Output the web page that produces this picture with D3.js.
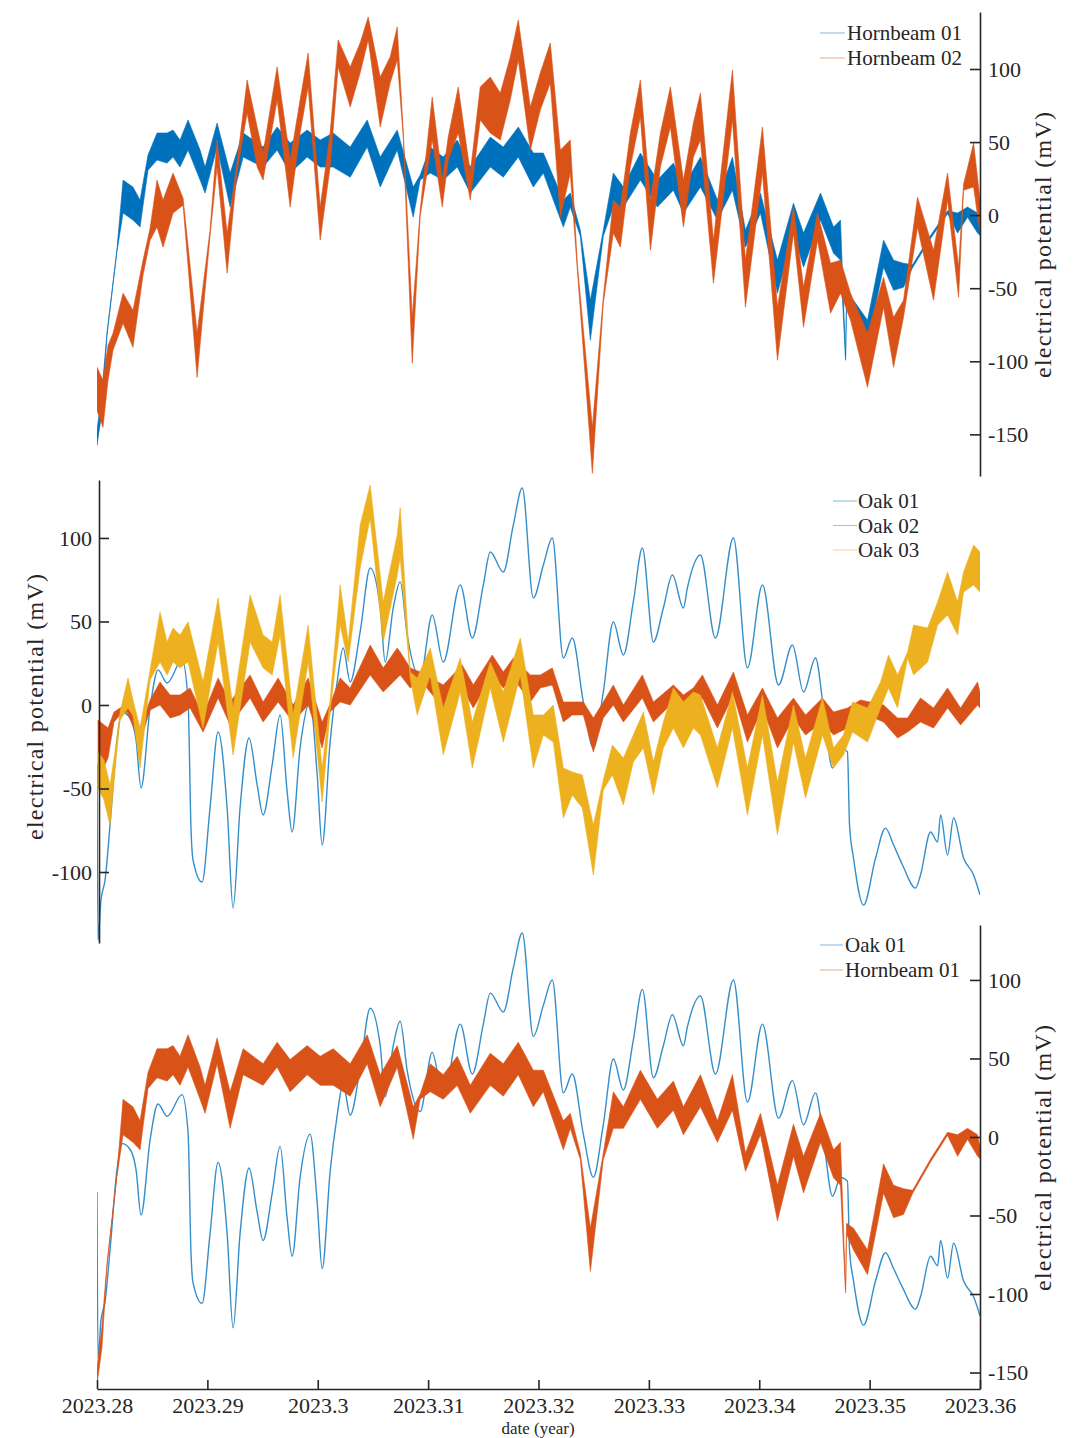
<!DOCTYPE html>
<html><head><meta charset="utf-8">
<script src="https://cdn.jsdelivr.net/npm/d3@7"></script>
<style>html,body{margin:0;padding:0;background:#fff;} svg{display:block;}</style>
</head><body><svg id="chart" width="1080" height="1438"></svg>
<script>
// ---------------- data ----------------
const xTickValues = [2023.28, 2023.29, 2023.30, 2023.31, 2023.32, 2023.33, 2023.34, 2023.35, 2023.36];
const xTickLabels = ["2023.28","2023.29","2023.3","2023.31","2023.32","2023.33","2023.34","2023.35","2023.36"];
const topTicks = [-150, -100, -50, 0, 50, 100];
const midTicks = [-100, -50, 0, 50, 100];
const botTicks = [-150, -100, -50, 0, 50, 100];
const yLabel = "electrical potential (mV)";
const xLabel = "date (year)";

// Hornbeam 01 (envelope low / high, mV)
const hb1Year = [2023.28000,2023.28045,2023.28091,2023.28181,2023.28236,2023.28326,2023.28390,2023.28462,2023.28544,2023.28635,2023.28689,2023.28752,2023.28825,2023.28934,2023.28979,2023.29088,2023.29206,2023.29324,2023.29505,2023.29632,2023.29750,2023.29904,2023.30022,2023.30140,2023.30294,2023.30448,2023.30566,2023.30720,2023.30865,2023.30928,2023.31019,2023.31137,2023.31264,2023.31382,2023.31563,2023.31681,2023.31817,2023.31953,2023.32044,2023.32225,2023.32288,2023.32379,2023.32470,2023.32587,2023.32678,2023.32769,2023.32923,2023.33077,2023.33222,2023.33313,2023.33467,2023.33621,2023.33757,2023.33875,2023.34011,2023.34165,2023.34310,2023.34401,2023.34555,2023.34673,2023.34736,2023.34782,2023.34791,2023.34854,2023.34981,2023.35126,2023.35217,2023.35307,2023.35389,2023.35552,2023.35706,2023.35797,2023.35887,2023.35978,2023.36000];
const hb1Lo = [-157.5,-134.2,-82,-25,1.4,-3.4,-8.2,30.8,37.7,35.6,39.7,32.9,44.5,24.0,15.1,46.6,5.5,39.7,32.9,44.5,28.8,39.7,32.9,32.9,26.0,46.6,19.2,44.5,-1.4,24.0,28.8,24.0,32.9,15.1,32.9,26.0,39.7,19.2,28.8,-8.2,5.5,-14.4,-85.6,-14.4,5.5,5.5,24.0,5.5,17.1,1.4,19.2,-3.4,17.1,-21.9,1.4,-53.4,-12.3,-35.6,-3.4,-26.0,-30.8,-99.3,-62,-71.9,-87.7,-35.6,-51.4,-49.3,-36,-16,1,-12.3,-1.4,-12.3,-13.7];
const hb1Hi = [-147.3,-120.5,-80,-23,24.0,19.2,10.3,41.1,56.2,56.2,58.2,51.4,65.1,44.5,32.9,63.0,28.8,56.2,46.6,60.3,49.3,58.2,51.4,56.2,46.6,65.1,39.7,58.2,19.2,27.4,46.6,39.7,51.4,32.9,53.4,46.6,60.3,42.5,42.5,10.3,15.1,-10.3,-58.2,-10.3,28.8,19.2,42.5,24.0,35.6,19.2,39.7,10.3,39.7,-10.3,15.1,-30.8,8.2,-12.3,15.1,-8.2,-3.4,-97,-55,-58.2,-71.9,-17.1,-30.8,-32.9,-34,-14,3,1.4,5.5,1.4,-6.8];

// Hornbeam 02
const hb2Year = [2023.28000,2023.28054,2023.28100,2023.28145,2023.28236,2023.28326,2023.28417,2023.28481,2023.28544,2023.28598,2023.28689,2023.28780,2023.28907,2023.29024,2023.29088,2023.29179,2023.29269,2023.29360,2023.29451,2023.29505,2023.29568,2023.29632,2023.29750,2023.29840,2023.29913,2023.30022,2023.30112,2023.30185,2023.30294,2023.30384,2023.30457,2023.30566,2023.30656,2023.30720,2023.30774,2023.30856,2023.30928,2023.31037,2023.31128,2023.31182,2023.31273,2023.31382,2023.31472,2023.31563,2023.31654,2023.31744,2023.31817,2023.31926,2023.32016,2023.32107,2023.32198,2023.32288,2023.32352,2023.32488,2023.32587,2023.32678,2023.32742,2023.32832,2023.32923,2023.33014,2023.33104,2023.33195,2023.33313,2023.33403,2023.33467,2023.33585,2023.33757,2023.33875,2023.34029,2023.34165,2023.34310,2023.34401,2023.34528,2023.34646,2023.34736,2023.34827,2023.34981,2023.35126,2023.35217,2023.35307,2023.35434,2023.35579,2023.35706,2023.35806,2023.35851,2023.35942,2023.36000];
const hb2Lo = [-133.6,-145.2,-113,-92.5,-74.0,-90.4,-41.1,-17.1,-8.2,-21.9,1.4,6.8,-111.0,-14.4,32.9,-39.7,29.5,69.9,32.9,24.0,51.4,78.8,5.5,56.2,87.7,-17.1,32.9,101.4,74.0,97.3,119.9,60.3,90.4,106.2,54.1,-101.4,-0.7,51.4,5.5,37.7,56.2,10.3,65.1,56.2,51.4,78.8,106.2,44.5,71.9,90.4,-1.4,28.8,-37.7,-176.7,-60.3,-12.3,-21.9,32.9,67.1,-24.0,32.9,60.3,-8.2,39.7,51.4,-46.6,65.1,-63.0,28.8,-99.3,-12.3,-76.7,-17.1,-67.1,-53.4,-71.9,-117.8,-63.0,-104.1,-69.9,-8.2,-58.2,10.3,-56.2,17.1,19.2,-12.3];
const hb2Hi = [-104.1,-113.0,-89,-80.8,-53.4,-65.1,-30.8,-8.9,24.0,10.3,28.8,11.6,-80.8,-10.3,51.4,-12.3,36.3,92.5,60.3,42.5,71.9,101.4,37.7,78.8,111.0,5.5,56.2,119.9,101.4,117.8,135.6,94.5,108.2,128.8,58.2,-69.9,3.4,80.8,24.0,53.4,87.7,28.8,87.7,94.5,83.6,108.2,133.6,74.0,97.3,117.8,44.5,51.4,-33.6,-145.2,-56.2,10.3,5.5,56.2,92.5,10.3,56.2,87.7,24.0,63.0,83.6,-17.1,99.3,-30.8,60.3,-63.0,5.5,-49.3,1.4,-32.9,-30.8,-53.4,-80.8,-42.5,-69.9,-58.2,12.3,-24.0,28.8,-35.6,21.2,49.3,10.3];

// Oak 01 (thin trace, mV)
const oak01Year = [2023.28000,2023.28009,2023.28036,2023.28073,2023.28118,2023.28181,2023.28227,2023.28299,2023.28354,2023.28399,2023.28481,2023.28553,2023.28635,2023.28771,2023.28825,2023.28852,2023.28870,2023.28952,2023.29024,2023.29097,2023.29179,2023.29233,2023.29296,2023.29378,2023.29451,2023.29505,2023.29587,2023.29659,2023.29723,2023.29768,2023.29840,2023.29931,2023.29995,2023.30040,2023.30112,2023.30176,2023.30230,2023.30294,2023.30384,2023.30475,2023.30566,2023.30611,2023.30684,2023.30747,2023.30811,2023.30928,2023.31037,2023.31137,2023.31291,2023.31400,2023.31500,2023.31563,2023.31681,2023.31772,2023.31853,2023.31953,2023.32044,2023.32125,2023.32225,2023.32306,2023.32406,2023.32497,2023.32587,2023.32678,2023.32769,2023.32859,2023.32941,2023.33041,2023.33131,2023.33213,2023.33313,2023.33349,2023.33467,2023.33603,2023.33766,2023.33893,2023.34029,2023.34174,2023.34301,2023.34401,2023.34510,2023.34582,2023.34664,2023.34736,2023.34799,2023.34818,2023.34854,2023.34945,2023.35054,2023.35144,2023.35217,2023.35298,2023.35416,2023.35461,2023.35552,2023.35616,2023.35643,2023.35706,2023.35761,2023.35851,2023.35942,2023.36000];
const oak01Val = [-35,-140.7,-116.8,-104.8,-71.9,-21.0,-4.2,-7.8,-21.0,-49.7,-1.8,21.0,13.2,27.0,3.0,-74.9,-92.8,-106.0,-61.7,-16.2,-61.7,-121.6,-61.7,-19.8,-47.9,-65.9,-35.9,-6.0,-52.1,-76.0,-25.7,1.8,-41.9,-83.8,-22.2,13.8,34.1,13.8,43.7,82.0,58.1,25.7,58.1,73.7,41.9,16.2,53.9,25.7,71.9,40.1,71.9,91.6,79.6,107.8,129.9,64.1,83.8,100.0,28.1,40.1,1.8,-25.7,7.8,49.7,29.9,61.7,94.0,37.7,58.1,77.8,58.1,70.1,89.8,40.1,100.0,22.2,71.9,12.0,35.9,7.8,28.1,-1.8,-37.7,-25.7,-28.1,-71.9,-91.6,-119.8,-91.6,-73.7,-83.8,-95.8,-109.6,-101.8,-76.0,-82.0,-65.9,-89.8,-67.7,-91.6,-101.8,-113.8];

// Oak 02
const oak02Year = [2023.28009,2023.28100,2023.28154,2023.28209,2023.28272,2023.28390,2023.28481,2023.28571,2023.28662,2023.28752,2023.28843,2023.28961,2023.29097,2023.29206,2023.29387,2023.29505,2023.29641,2023.29777,2023.29913,2023.30040,2023.30112,2023.30203,2023.30294,2023.30475,2023.30593,2023.30720,2023.30747,2023.30838,2023.30928,2023.31137,2023.31309,2023.31409,2023.31581,2023.31681,2023.31772,2023.31926,2023.32016,2023.32125,2023.32225,2023.32306,2023.32406,2023.32497,2023.32587,2023.32678,2023.32769,2023.32941,2023.33041,2023.33222,2023.33313,2023.33403,2023.33485,2023.33621,2023.33766,2023.33893,2023.34029,2023.34165,2023.34310,2023.34419,2023.34573,2023.34673,2023.34800,2023.34917,2023.35126,2023.35253,2023.35344,2023.35461,2023.35579,2023.35706,2023.35824,2023.35978,2023.36000];
const oak02Lo = [-44.9,-31.7,-10.2,-6.0,-4.2,-22.2,-3.0,0,-7.8,-6.0,-1.8,-16.2,4.2,-12.0,4.2,-10.2,1.8,-10.2,0,-25.7,-4.2,1.8,0,18.0,7.8,16.2,18.0,10.2,15.0,-1.8,10.2,-1.8,18.0,10.2,16.2,1.8,10.2,12.0,-10.2,-6.0,-6.0,-28.1,-7.8,0,-10.2,4.2,-10.2,1.8,-1.8,-6.0,4.2,-13.8,6.0,-22.2,-1.8,-25.7,-7.8,-18.0,-10.2,-18.0,-13.8,-4.2,-10.2,-19.8,-16.2,-10.2,-13.8,-1.8,-12.0,0,-1.8];
const oak02Hi = [-9.0,-13.8,-4.2,-1.8,-0.6,-13.8,3.0,13.8,6.0,6.0,10.2,-6.0,16.2,1.8,18.0,1.8,16.2,0,16.2,-10.2,0.6,16.2,10.2,35.9,22.2,34.1,31.7,22.2,19.8,12.0,24.0,12.0,29.9,19.8,28.1,18.0,18.0,22.2,1.8,1.8,1.8,-7.8,1.8,12.0,0,18.0,1.8,12.0,6.0,10.2,18.0,0,19.8,-6.0,10.2,-7.8,4.2,-6.0,4.2,-4.2,-1.8,3.0,0,-7.8,-7.8,4.2,-1.8,10.2,-1.8,13.8,7.8];

// Oak 03
const oak03Year = [2023.28009,2023.28063,2023.28118,2023.28172,2023.28209,2023.28281,2023.28326,2023.28390,2023.28481,2023.28571,2023.28635,2023.28689,2023.28752,2023.28825,2023.28961,2023.29097,2023.29233,2023.29387,2023.29505,2023.29587,2023.29659,2023.29777,2023.29913,2023.30040,2023.30112,2023.30203,2023.30276,2023.30384,2023.30475,2023.30593,2023.30720,2023.30747,2023.30838,2023.30901,2023.31019,2023.31137,2023.31291,2023.31400,2023.31563,2023.31681,2023.31835,2023.31953,2023.32044,2023.32134,2023.32225,2023.32306,2023.32397,2023.32497,2023.32587,2023.32669,2023.32769,2023.32859,2023.32950,2023.33041,2023.33131,2023.33222,2023.33313,2023.33403,2023.33467,2023.33621,2023.33757,2023.33893,2023.34029,2023.34165,2023.34310,2023.34419,2023.34573,2023.34673,2023.34763,2023.34845,2023.34981,2023.35099,2023.35171,2023.35253,2023.35344,2023.35398,2023.35525,2023.35616,2023.35706,2023.35797,2023.35851,2023.35942,2023.36000];
const oak03Lo = [-49.7,-56.9,-71.9,-33,-9.0,-1.8,-6,-37.7,15.0,25.7,18.0,25.7,22.2,25.7,-13.8,37.7,-29.9,37.7,22.2,18.0,41.9,-31.7,25.7,-58.1,-4.2,47.9,25.7,82.0,112.0,37.7,77.8,88.0,16.2,-6.0,18.0,-29.9,7.8,-37.7,10.2,-22.2,18.0,-37.7,-18.0,-22.2,-67.7,-53.9,-61.7,-101.8,-50.9,-41.9,-59.9,-34.1,-25.7,-53.9,-25.7,-13.8,-25.7,-13.8,-18.0,-49.7,-13.8,-65.9,-18.0,-77.8,-22.2,-55.7,-18.0,-37.7,-29.9,-16.2,-22.2,-1.8,10.2,-1.8,28.1,18.0,25.7,47.9,53.9,41.9,67.7,71.9,67.7];
const oak03Hi = [-28.1,-32.9,-47.9,-24,-4.2,16.2,3,-13.8,21.0,55.7,37.7,46.1,41.9,49.7,13.8,64.1,-1.8,65.9,41.9,37.7,65.9,-6.0,47.9,-37.7,3.0,71.9,37.7,107.8,131.7,61.7,101.8,118.0,19.8,16.2,34.1,-1.8,28.1,-10.2,25.7,7.8,40.1,-6.0,-6.0,0,-37.7,-40.1,-41.9,-71.9,-44.9,-24.0,-31.7,-18.0,-4.2,-34.1,-10.2,10.2,1.8,7.8,6.0,-25.7,7.8,-37.7,6.0,-46.1,0,-31.7,4.2,-25.7,-18.0,1.8,-1.8,13.8,29.9,18.0,31.7,47.9,46.1,61.7,79.6,61.7,79.6,95.8,91.6];

// ---------------- drawing ----------------
const svg = d3.select("#chart");
const FONT = "'Liberation Serif','Times New Roman',serif";
const INK = "#262626";
const C_BLUE = "#0072BD", C_ORANGE = "#D95319", C_YELLOW = "#EDB120";

const x = d3.scaleLinear().domain([2023.28, 2023.36]).range([97, 980]);
const yTop = d3.scaleLinear().domain([-178.5, 139]).range([476, 12]);
const yMid = d3.scaleLinear().domain([-142.5, 134.7]).range([943, 480]);
const yBot = d3.scaleLinear().domain([-160.5, 135]).range([1389, 925]);

function panel(id, y) {
  const r = y.range();
  svg.append("clipPath").attr("id", id).append("rect")
    .attr("x", x.range()[0]).attr("y", Math.min(r[0], r[1]))
    .attr("width", x.range()[1] - x.range()[0]).attr("height", Math.abs(r[0] - r[1]));
  return svg.append("g").attr("clip-path", `url(#${id})`);
}

function band(g, years, lo, hi, y, color) {
  const pts = years.map((t, i) => ({ t, lo: lo[i], hi: hi[i] }));
  const area = d3.area().x(d => x(d.t)).y0(d => y(d.lo)).y1(d => y(d.hi));
  g.append("path").attr("d", area(pts))
    .attr("fill", color).attr("stroke", color)
    .attr("stroke-width", 1).attr("stroke-opacity", 0.6).attr("stroke-linejoin", "round");
}

function trace(g, years, vals, y, color) {
  const pts = years.map((t, i) => ({ t, v: vals[i] }));
  const line = d3.line().x(d => x(d.t)).y(d => y(d.v)).curve(d3.curveMonotoneX);
  g.append("path").attr("d", line(pts)).attr("fill", "none")
    .attr("stroke", color).attr("stroke-width", 1.4).attr("stroke-opacity", 0.8)
    .attr("stroke-linejoin", "round");
}

const fmt = d => String(d);   // plain hyphen-minus, as in the reference

function styleAxis(g) {
  g.selectAll("path.domain").attr("stroke", INK).attr("stroke-width", 1.6);
  g.selectAll(".tick line").attr("stroke", INK).attr("stroke-width", 1.6);
  g.selectAll(".tick text").attr("fill", INK).style("font-family", FONT).style("font-size", "22px");
  g.attr("font-family", null).attr("font-size", null);
}

function legend(items, x0, x1, xt, baseline0, step) {
  const g = svg.append("g");
  items.forEach((it, i) => {
    const yb = baseline0 + i * step;
    g.append("line").attr("x1", x0).attr("x2", x1).attr("y1", yb - 7).attr("y2", yb - 7)
      .attr("stroke", it.color).attr("stroke-width", 1).attr("stroke-opacity", 0.5);
    g.append("text").attr("x", xt).attr("y", yb).text(it.name)
      .attr("fill", INK).style("font-family", FONT).style("font-size", "21px");
  });
}

function ylab(cx, cy) {
  svg.append("text").attr("transform", `translate(${cx},${cy}) rotate(-90)`)
    .attr("text-anchor", "middle").attr("dominant-baseline", "central")
    .attr("textLength", 266).attr("lengthAdjust", "spacing")
    .attr("fill", INK).style("font-family", FONT).style("font-size", "24px")
    .text(yLabel);
}

// ---- top panel: Hornbeam 01 & 02 ----
const gTop = panel("clipTop", yTop);
band(gTop, hb1Year, hb1Lo, hb1Hi, yTop, C_BLUE);
band(gTop, hb2Year, hb2Lo, hb2Hi, yTop, C_ORANGE);
const axTop = svg.append("g").attr("transform", `translate(${x.range()[1]},0)`)
  .call(d3.axisRight(yTop).tickValues(topTicks).tickFormat(fmt).tickSizeInner(-10).tickSizeOuter(0).tickPadding(8));
styleAxis(axTop);
ylab(1043, 245);
legend([{ name: "Hornbeam 01", color: C_BLUE }, { name: "Hornbeam 02", color: C_ORANGE }], 820, 845, 847, 40, 25);

// ---- middle panel: Oak 01, 02, 03 ----
const gMid = panel("clipMid", yMid);
trace(gMid, oak01Year, oak01Val, yMid, C_BLUE);
band(gMid, oak02Year, oak02Lo, oak02Hi, yMid, C_ORANGE);
band(gMid, oak03Year, oak03Lo, oak03Hi, yMid, C_YELLOW);
const axMid = svg.append("g").attr("transform", `translate(${x.range()[0] + 2},0)`)
  .call(d3.axisLeft(yMid).tickValues(midTicks).tickFormat(fmt).tickSizeInner(-10).tickSizeOuter(0).tickPadding(7));
styleAxis(axMid);
ylab(35, 707);
legend([{ name: "Oak 01", color: C_BLUE }, { name: "Oak 02", color: C_ORANGE }, { name: "Oak 03", color: C_YELLOW }], 833, 857, 858, 508, 24.5);

// ---- bottom panel: Oak 01 vs Hornbeam 01 ----
const gBot = panel("clipBot", yBot);
trace(gBot, oak01Year, oak01Val, yBot, C_BLUE);
band(gBot, hb1Year, hb1Lo, hb1Hi, yBot, C_ORANGE);
const axBotY = svg.append("g").attr("transform", `translate(${x.range()[1]},0)`)
  .call(d3.axisRight(yBot).tickValues(botTicks).tickFormat(fmt).tickSizeInner(-10).tickSizeOuter(0).tickPadding(8));
styleAxis(axBotY);
const axBotX = svg.append("g").attr("transform", `translate(0,${yBot.range()[0]})`)
  .call(d3.axisBottom(x).tickValues(xTickValues).tickFormat((d, i) => xTickLabels[i])
    .tickSizeInner(-9).tickSizeOuter(0).tickPadding(8.5));
styleAxis(axBotX);
ylab(1043, 1158);
legend([{ name: "Oak 01", color: C_BLUE }, { name: "Hornbeam 01", color: C_ORANGE }], 820, 843, 845, 952, 25);

svg.append("text").attr("x", 538).attr("y", 1434).attr("text-anchor", "middle")
  .attr("fill", INK).style("font-family", FONT).style("font-size", "17px").text(xLabel);
</script>
</body></html>
